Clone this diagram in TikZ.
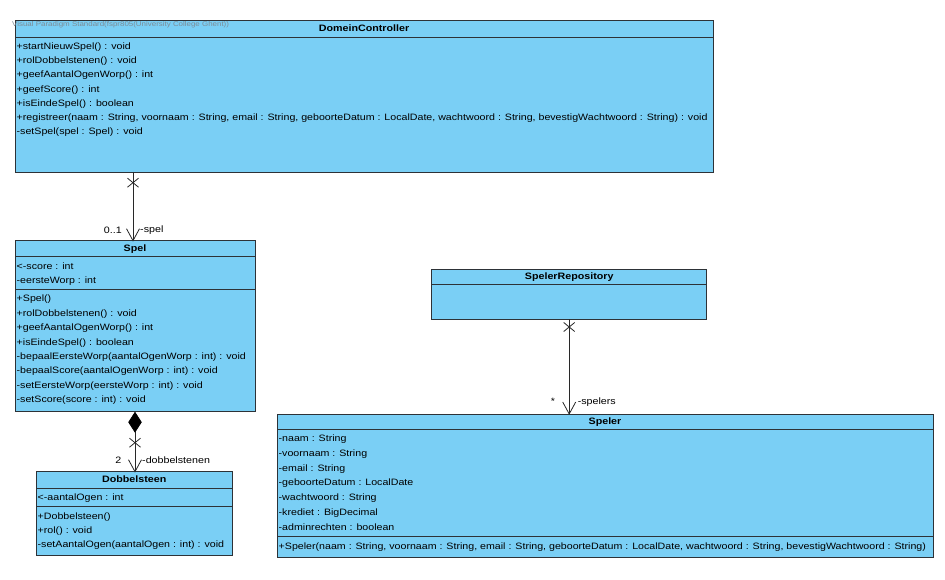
\documentclass[tikz,border=0pt]{standalone}
\usepackage{fontspec}
\setmainfont{Liberation Sans}[FakeStretch=1.15]
\usetikzlibrary{arrows.meta}
\definecolor{classfill}{RGB}{122,207,245}
\definecolor{classline}{RGB}{45,50,55}
\definecolor{connline}{RGB}{40,40,40}
\definecolor{markgray}{RGB}{125,140,150}
\begin{document}
\begin{tikzpicture}[x=1pt,y=-1pt,
  classbox/.style={draw=classline, fill=classfill, line width=0.9pt,
    anchor=north west, inner sep=0pt, outer sep=0pt},
  member/.style={anchor=west, inner sep=0pt, font=\fontsize{9.25}{11}\selectfont,
    text height=7pt, text depth=2pt},
  classtitle/.style={anchor=center, inner sep=0pt, font=\fontsize{9.3}{11}\selectfont\bfseries,
    text height=7pt, text depth=2pt},
  divider/.style={draw=classline, line width=0.9pt},
  assoc/.style={draw=connline, line width=0.8pt},
  role/.style={inner sep=0pt, font=\fontsize{9.3}{11}\selectfont, text height=7pt, text depth=2pt},
  xmark/.pic={\draw[assoc] (-5.5,-4.5) -- (5.5,4.5) (-5.5,4.5) -- (5.5,-4.5);},
  openv/.pic={\draw[assoc, line join=miter] (-6.5,-12) -- (0,0) -- (6.5,-12);}
]
% canvas
\path[fill=white] (0,0) rectangle (945,580);
\useasboundingbox (0,0) rectangle (945,580);

% ---------- DomeinController ----------
\node[classbox, minimum width=698pt, minimum height=152pt] (dc) at (15,20) {};
\draw[divider] (15,37.3) -- (713,37.3);
\node[anchor=west, inner sep=0pt, text=markgray, font=\fontsize{6.9}{8}\selectfont] (wm) at (12,24.5)
  {Visual Paradigm Standard(fspr805(University College Ghent))};
\node[classtitle] (dct) at (364,29) {DomeinController};
\foreach \t [count=\i from 0] in {
  {+startNieuwSpel() : void},
  {+rolDobbelstenen() : void},
  {+geefAantalOgenWorp() : int},
  {+geefScore() : int},
  {+isEindeSpel() : boolean},
  {+registreer(naam : String, voornaam : String, email : String, geboorteDatum : LocalDate, wachtwoord : String, bevestigWachtwoord : String) : void},
  {-setSpel(spel : Spel) : void}}
  \node[member] (dcm\i) at (16.5,47+14.2*\i) {\t};

% ---------- Spel ----------
\node[classbox, minimum width=240pt, minimum height=171pt] (spel) at (15,240.7) {};
\draw[divider] (15,256) -- (255,256);
\draw[divider] (15,289.3) -- (255,289.3);
\node[classtitle] (spelt) at (135,249) {Spel};
\node[member] (spa0) at (16.5,266.7) {<-score : int};
\node[member] (spa1) at (16.5,281) {-eersteWorp : int};
\foreach \t [count=\i from 0] in {
  {+Spel()},
  {+rolDobbelstenen() : void},
  {+geefAantalOgenWorp() : int},
  {+isEindeSpel() : boolean},
  {-bepaalEersteWorp(aantalOgenWorp : int) : void},
  {-bepaalScore(aantalOgenWorp : int) : void},
  {-setEersteWorp(eersteWorp : int) : void},
  {-setScore(score : int) : void}}
  \node[member] (spm\i) at (16.5,299.3+14.4*\i) {\t};

% ---------- Dobbelsteen ----------
\node[classbox, minimum width=196.3pt, minimum height=83.3pt] (dob) at (36,471.7) {};
\draw[divider] (36,488.3) -- (232.3,488.3);
\draw[divider] (36,506.7) -- (232.3,506.7);
\node[classtitle] (dobt) at (134.2,480) {Dobbelsteen};
\node[member] (dba0) at (37.5,497.7) {<-aantalOgen : int};
\node[member] (dbm0) at (37.5,516.7) {+Dobbelsteen()};
\node[member] (dbm1) at (37.5,531) {+rol() : void};
\node[member] (dbm2) at (37.5,545.3) {-setAantalOgen(aantalOgen : int) : void};

% ---------- SpelerRepository ----------
\node[classbox, minimum width=275pt, minimum height=50pt] (repo) at (431.7,269) {};
\draw[divider] (431.7,284.3) -- (706.7,284.3);
\node[classtitle] (repot) at (569.2,276.7) {SpelerRepository};

% ---------- Speler ----------
\node[classbox, minimum width=656pt, minimum height=143pt] (speler) at (277,414) {};
\draw[divider] (277,429) -- (933,429);
\draw[divider] (277,536) -- (933,536);
\node[classtitle] (spelert) at (605,421.7) {Speler};
\foreach \t [count=\i from 0] in {
  {-naam : String},
  {-voornaam : String},
  {-email : String},
  {-geboorteDatum : LocalDate},
  {-wachtwoord : String},
  {-krediet : BigDecimal},
  {-adminrechten : boolean}}
  \node[member] (sla\i) at (278.5,439.3+14.7*\i) {\t};
\node[member] (slm0) at (278.5,546.7)
  {+Speler(naam : String, voornaam : String, email : String, geboorteDatum : LocalDate, wachtwoord : String, bevestigWachtwoord : String)};

% ---------- associations ----------
% DomeinController -> Spel
\coordinate (spelport) at ([xshift=-2pt]spel.north);
\draw[assoc] (dc.south -| spelport) -- (spelport);
\pic at (spelport) {openv};
\path (dc.south -| spelport) ++(0,10.7) coordinate (xa);
\pic at (xa) {xmark};
\node[role, anchor=east] (m1) at ([shift={(-11,-10)}]spelport) {0..1};
\node[role, anchor=west] (r1) at ([shift={(7,-10.5)}]spelport) {-spel};

% Spel <>-> Dobbelsteen (composition)
\coordinate (dobport) at (spel.south |- dob.north);
\draw[assoc, {Diamond[length=21pt,width=13.5pt,fill=black,color=black]}-]
  (spel.south) -- (dobport);
\pic at (dobport) {openv};
\path (spel.south) ++(0,31) coordinate (xb);
\pic at (xb) {xmark};
\node[role, anchor=east] (m2) at ([shift={(-13.5,-10.7)}]dobport) {2};
\node[role, anchor=west] (r2) at ([shift={(7,-10.7)}]dobport) {-dobbelstenen};

% SpelerRepository -> Speler
\coordinate (spelerport) at (repo.south |- speler.north);
\draw[assoc] (repo.south) -- (spelerport);
\pic at (spelerport) {openv};
\path (repo.south) ++(0,8) coordinate (xc);
\pic at (xc) {xmark};
\node[role, anchor=east] (m3) at ([shift={(-14,-12.3)}]spelerport) {*};
\node[role, anchor=west] (r3) at ([shift={(8.4,-12.3)}]spelerport) {-spelers};
\end{tikzpicture}
\end{document}
